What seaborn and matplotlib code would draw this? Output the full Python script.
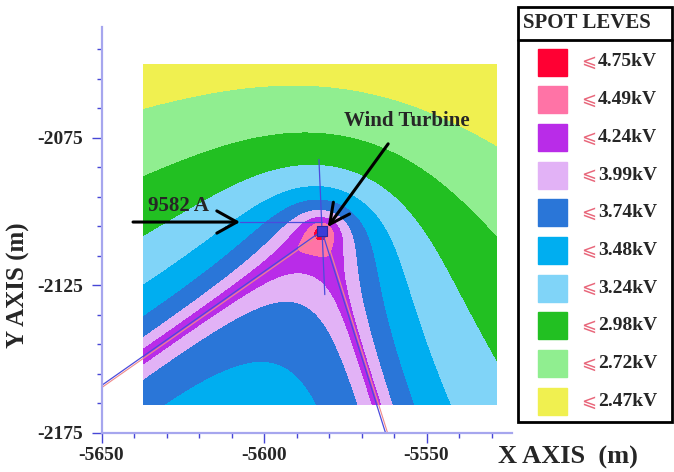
import numpy as np
import matplotlib
matplotlib.use("Agg")
import matplotlib.pyplot as plt
import seaborn as sns
from matplotlib.patches import Rectangle

# contour levels (kV) and their colours, lowest first
level_values = [2.47, 2.72, 2.98, 3.24, 3.48, 3.74, 3.99, 4.24, 4.49, 4.75]
level_colors = ["#f0f050", "#90ee90", "#22c022", "#80d4f8", "#00aef0",
                "#2a76d8", "#e2b2f6", "#b92ce8", "#ff73a6", "#ff0033"]
legend_labels = ["4.75kV", "4.49kV", "4.24kV", "3.99kV", "3.74kV",
                 "3.48kV", "3.24kV", "2.98kV", "2.72kV", "2.47kV"]

# turbine and the two buried conductors leaving it (m)
turbine_xy = np.array([-5582.2, -2106.5])
left_end = np.array([-5650.0, -2158.9])
right_end = np.array([-5562.8, -2174.3])
left_len, right_len = 500.0, 200.0
left_amp, right_amp = 0.162, 0.145     # kV per m of conductor
leg_radius, radius_extra, radius_decay = 1.8, 4.0, 15.0
turbine_amp, turbine_radius = 10.19, 15.0
foundation_amp, foundation_len = 0.75, 4.5
base_kv, slope_y = 1.80, -0.0039

# surveyed area
area_x = (-5637.2, -5528.4)
area_y = (-2165.5, -2050.2)

x_major = [-5650, -5600, -5550]
x_minor = [-5640, -5630, -5620, -5610, -5590, -5580, -5570, -5560, -5540, -5530]
y_major = [-2075, -2125, -2175]
y_minor = [-2045, -2055, -2065, -2085, -2095, -2105, -2115, -2135, -2145, -2155, -2165]


def leg_field(px, py, start, end, length, ds=0.5):
    u = (end - start) / np.linalg.norm(end - start)
    out = np.zeros_like(px)
    for s in np.arange(ds / 2, length, ds):
        rad = leg_radius + radius_extra * np.exp(-s / radius_decay)
        out += ds / np.sqrt((px - start[0] - s * u[0]) ** 2 + (py - start[1] - s * u[1]) ** 2 + rad ** 2)
    return out


gx = np.linspace(area_x[0], area_x[1], 330)
gy = np.linspace(area_y[0], area_y[1], 330)
X, Y = np.meshgrid(gx, gy)
rT = np.hypot(X - turbine_xy[0], Y - turbine_xy[1])
V = (base_kv
     + left_amp * leg_field(X, Y, turbine_xy, left_end, left_len)
     + right_amp * leg_field(X, Y, turbine_xy, right_end, right_len)
     + turbine_amp / np.sqrt(rT ** 2 + turbine_radius ** 2)
     + foundation_amp * np.exp(-rT / foundation_len)
     + slope_y * (Y - turbine_xy[1]))

sns.set_theme(style="white")
plt.rcParams["font.family"] = ["Liberation Serif", "DejaVu Sans"]

fig = plt.figure(figsize=(6.74, 4.72), dpi=100)
ax = fig.add_axes([101.5 / 674, 39 / 472, (512 - 101.5) / 674, (433 - 27) / 472])

ax.contourf(X, Y, V, levels=[-10] + level_values + [100], colors=level_colors + [level_colors[-1]])

# wires
wire = "#4b4bdc"
ax.plot([-5607.4, turbine_xy[0]], [-2103.5, -2103.5], color=wire, lw=0.9)
ax.plot([-5583.1, -5581.3], [-2082.3, -2128.1], color=wire, lw=0.9)
for end in (left_end, right_end):
    u = (end - turbine_xy) / np.linalg.norm(end - turbine_xy)
    far = turbine_xy + 150 * u
    n = np.array([-u[1], u[0]]) * 0.6
    ax.plot([turbine_xy[0] + n[0], far[0] + n[0]], [turbine_xy[1] + n[1], far[1] + n[1]], color="#f08a8a", lw=0.8)
    ax.plot([turbine_xy[0], far[0]], [turbine_xy[1], far[1]], color=wire, lw=0.9)
sns.scatterplot(x=[turbine_xy[0]], y=[turbine_xy[1]], marker="s", s=55, color="#3c3cd8",
                edgecolor="#2a2aa0", linewidth=0.8, ax=ax, zorder=5)

# annotations
ax.annotate("", xy=(-5580.4, -2105.2), xytext=(-5561.8, -2077.0),
            arrowprops=dict(arrowstyle="->,head_length=0.9,head_width=0.45", lw=2.2, color="black",
                            shrinkA=0, shrinkB=0, mutation_scale=16))
ax.text(-5556.0, -2069.2, "Wind Turbine", ha="center", va="center", fontsize=15, fontweight="bold")
ax.annotate("", xy=(-5607.4, -2103.5), xytext=(-5640.3, -2103.5),
            arrowprops=dict(arrowstyle="->,head_length=0.9,head_width=0.5", lw=2.2, color="black",
                            shrinkA=0, shrinkB=0, mutation_scale=16), annotation_clip=False)
ax.text(-5626.2, -2098.1, "9582 A", ha="center", va="center", fontsize=15, fontweight="bold")

ax.set_xlim(-5650, -5523.7)
ax.set_ylim(-2175, -2037.4)
ax.set_xticks(x_major, labels=[str(v) for v in x_major], fontsize=14, fontweight="bold")
ax.set_xticks(x_minor, minor=True)
ax.set_yticks(y_major, labels=[str(v) for v in y_major], fontsize=14, fontweight="bold")
ax.set_yticks(y_minor, minor=True)
ax.tick_params(which="both", direction="out", color="#4646d6", width=1, bottom=True, left=True)
ax.tick_params(which="major", length=7)
ax.tick_params(which="minor", length=3.5)
ax.tick_params(axis="x", pad=3)
ax.tick_params(axis="y", pad=6)
for side in ("top", "right"):
    ax.spines[side].set_visible(False)
for side in ("left", "bottom"):
    ax.spines[side].set_color("#a6a6ee")
    ax.spines[side].set_linewidth(1.6)

fig.text(18 / 674, 1 - 285 / 472, "Y AXIS (m)", rotation=90, ha="center", va="center",
         fontsize=18, fontweight="bold")
fig.text(498 / 674, 1 - 457 / 472, "X AXIS  (m)", ha="left", va="center", fontsize=19, fontweight="bold")

# legend box
lax = fig.add_axes([517 / 674, 50 / 472, 155 / 674, 416 / 472])
lax.set_xlim(517, 672)
lax.set_ylim(422, 6)
lax.axis("off")
lax.add_patch(Rectangle((517.5, 6.5), 154, 415, fill=False, ec="black", lw=2, clip_on=False))
lax.plot([517.5, 671.5], [40, 40], color="black", lw=2, clip_on=False)
lax.text(523, 23, "SPOT LEVES", fontsize=15, fontweight="bold", ha="left", va="center")
for i, (col, lab) in enumerate(zip(level_colors[::-1], legend_labels)):
    yc = 62 + 37.7 * i
    lax.add_patch(Rectangle((538, yc - 13.5), 29, 27, color=col))
    lax.text(589, yc, "\u2a7d", color="#e8667a", fontsize=13, ha="center", va="center", family=["DejaVu Sans"])
    lax.text(598, yc, lab, fontsize=14, fontweight="bold", ha="left", va="center")

fig.savefig("out.png", dpi=100)
